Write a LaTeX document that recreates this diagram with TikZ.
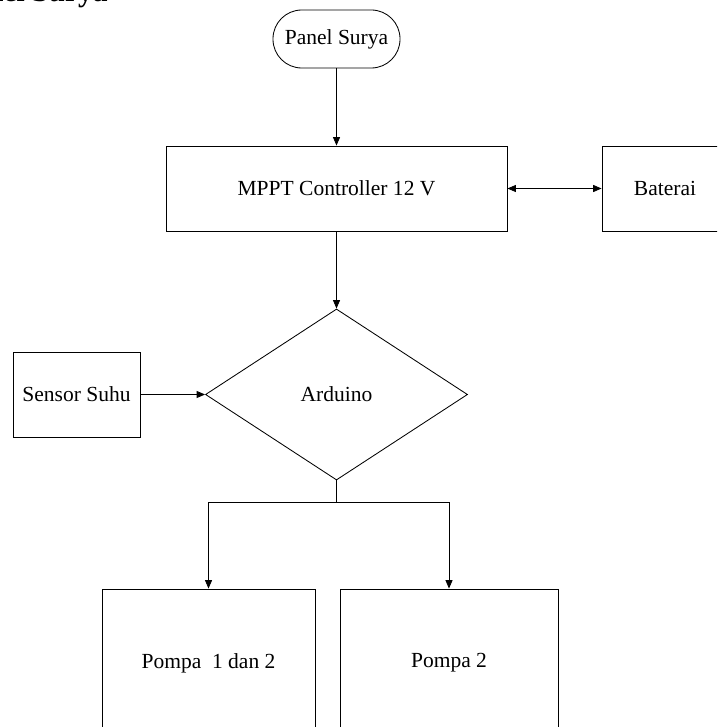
\documentclass[tikz,border=0pt]{standalone}
\usepackage{fontspec}
\setmainfont{Liberation Serif}
\usepackage{tikz}
\usetikzlibrary{shapes.geometric, arrows.meta, positioning}

\begin{document}
\begin{tikzpicture}[x=0.025cm, y=-0.025cm,
    box/.style={rectangle, draw, line width=0.6pt, align=center, inner sep=0pt, font=\fontsize{15.3}{18}\selectfont},
    arrow/.style={-{Triangle[length=6pt, width=5pt]}, line width=0.6pt}
]

\useasboundingbox (0,0) rectangle (717,727);
\clip (0,0) rectangle (717,727);

\node[font=\fontsize{21}{24}\selectfont\bfseries, anchor=base east, inner sep=0pt] (judul) at (108,2) {Panel Surya};

\node[box, rounded corners=0.72cm, minimum width=3.175cm, minimum height=1.45cm] (panel) at (336.5,39) {Panel Surya};
\node[box, minimum width=8.525cm, minimum height=2.125cm] (mppt) at (336.5,188.5) {MPPT Controller 12 V};
\node[box, minimum width=3.15cm, minimum height=2.125cm] (baterai) at (665,188.5) {Baterai};

\node[box, diamond, aspect=1.53, minimum width=6.55cm, minimum height=4.275cm] (arduino) at (336.5,394.5) {Arduino};
\node[box, minimum width=3.175cm, minimum height=2.125cm] (sensor) at (76.5,394.5) {Sensor Suhu};

\node[box, minimum width=5.325cm, minimum height=3.7cm] (pompa1) at (208.5,663) {Pompa~~1 dan 2};
\node[box, minimum width=5.45cm, minimum height=3.7cm] (pompa2) at (449,663) {Pompa 2};

\coordinate (cabang) at (336.5,502);

\draw[arrow] (panel) -- (mppt);
\draw[arrow, {Triangle[length=6pt, width=5pt]}-{Triangle[length=6pt, width=5pt]}] (mppt) -- (baterai);
\draw[arrow] (mppt) -- (arduino);
\draw[arrow] (sensor) -- (arduino);
\draw[line width=0.6pt] (arduino) -- (cabang);
\draw[arrow] (cabang) -| (pompa1);
\draw[arrow] (cabang) -| (pompa2);

\end{tikzpicture}
\end{document}
